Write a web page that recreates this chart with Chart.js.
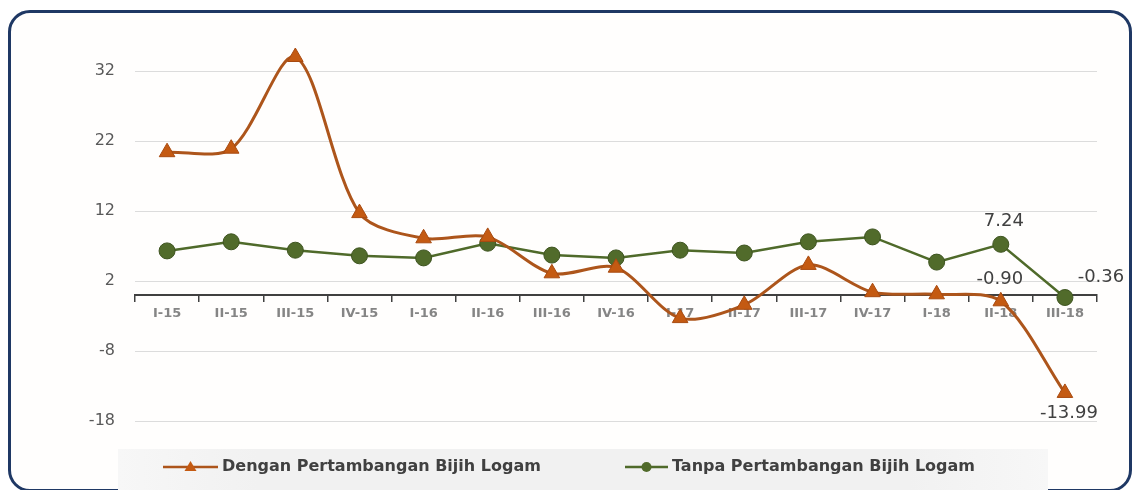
<!DOCTYPE html>
<html><head><meta charset="utf-8">
<script src="https://cdn.jsdelivr.net/npm/chart.js@4.4.1/dist/chart.umd.min.js"></script>
<style>
html,body{margin:0;padding:0;background:#fff;}
#wrap{position:relative;width:1134px;height:490px;overflow:hidden;background:#fff;}
#frame{position:absolute;left:8px;top:10px;width:1124px;height:482px;box-sizing:border-box;border:3px solid #1f3864;border-radius:22px;background:#fffefd;}
#c{position:absolute;left:0;top:0;}
</style></head><body>
<div id="wrap"><div id="frame"></div><canvas id="c" width="1134" height="490"></canvas></div>
<script>
const categories = ['I-15','II-15','III-15','IV-15','I-16','II-16','III-16','IV-16','I-17','II-17','III-17','IV-17','I-18','II-18','III-18'];
const denganValues = [20.4, 20.9, 34.0, 11.7, 8.1, 8.3, 3.1, 3.9, -3.3, -1.4, 4.3, 0.4, 0.1, -0.90, -13.99];
const tanpaValues = [6.3, 7.6, 6.4, 5.6, 5.3, 7.4, 5.7, 5.3, 6.4, 6.0, 7.6, 8.3, 4.7, 7.24, -0.36];
const yTickValues = [-18, -8, 2, 12, 22, 32];
const seriesNames = ['Dengan Pertambangan Bijih Logam', 'Tanpa Pertambangan Bijih Logam'];
const labelledIndices = [13, 14];

const ORANGE_LINE = '#ad551b', ORANGE_PT = '#c45a12';
const GREEN_LINE = '#4f6a2a', GREEN_PT = '#516b2b';

const labelOffsets = { 0: { 13: [-1, -22], 14: [4, 20] }, 1: { 13: [3, -23], 14: [36, -20] } };

const dataLabelPlugin = {
  id: 'dataLabels',
  afterDatasetsDraw(chart) {
    const ctx = chart.ctx;
    ctx.save();
    ctx.font = '18px "DejaVu Sans"';
    ctx.fillStyle = '#404040';
    ctx.textAlign = 'center';
    ctx.textBaseline = 'middle';
    chart.data.datasets.forEach((ds, di) => {
      const meta = chart.getDatasetMeta(di);
      labelledIndices.forEach(i => {
        const el = meta.data[i];
        const off = labelOffsets[di][i];
        ctx.fillText(ds.data[i].toFixed(2), el.x + off[0], el.y + off[1]);
      });
    });
    ctx.restore();
  }
};

const legendPlugin = {
  id: 'customLegend',
  afterDraw(chart) {
    const ctx = chart.ctx;
    ctx.save();
    const g = ctx.createLinearGradient(118, 0, 1048, 0);
    g.addColorStop(0, '#f7f7f7'); g.addColorStop(0.15, '#f1f1f1'); g.addColorStop(0.85, '#f1f1f1'); g.addColorStop(1, '#f7f7f7');
    ctx.fillStyle = g;
    ctx.fillRect(118, 449, 930, 41);
    const y = 467;
    const pos = [{ x0: 163, x1: 218, tx: 222 }, { x0: 625, x1: 668, tx: 672 }];
    chart.data.datasets.forEach((ds, di) => {
      const p = pos[di];
      ctx.strokeStyle = ds.borderColor;
      ctx.lineWidth = 2.5;
      ctx.beginPath(); ctx.moveTo(p.x0, y); ctx.lineTo(p.x1, y); ctx.stroke();
      const cx = (p.x0 + p.x1) / 2;
      ctx.fillStyle = ds.pointBackgroundColor;
      ctx.beginPath();
      if (ds.pointStyle === 'triangle') {
        ctx.moveTo(cx, y - 6); ctx.lineTo(cx + 6, y + 4); ctx.lineTo(cx - 6, y + 4); ctx.closePath();
      } else {
        ctx.arc(cx, y, 5, 0, Math.PI * 2);
      }
      ctx.fill();
      ctx.fillStyle = '#404040';
      ctx.font = 'bold 16px "DejaVu Sans"';
      ctx.textAlign = 'left';
      ctx.textBaseline = 'middle';
      ctx.fillText(ds.label, p.tx, y);
    });
    ctx.restore();
  }
};

new Chart(document.getElementById('c'), {
  type: 'line',
  data: {
    labels: categories,
    datasets: [
      {
        label: seriesNames[0], data: denganValues,
        borderColor: ORANGE_LINE, borderWidth: 3, tension: 0.3,
        pointStyle: 'triangle', pointRadius: 9, pointBackgroundColor: ORANGE_PT,
        pointBorderColor: '#a84a10', pointBorderWidth: 1
      },
      {
        label: seriesNames[1], data: tanpaValues,
        borderColor: GREEN_LINE, borderWidth: 2.5, tension: 0,
        pointStyle: 'circle', pointRadius: 8, pointBackgroundColor: GREEN_PT,
        pointBorderColor: '#3e5420', pointBorderWidth: 1
      }
    ]
  },
  options: {
    responsive: false,
    animation: false,
    devicePixelRatio: 1,
    layout: { padding: { left: 0, right: 37, top: 43, bottom: 69 } },
    plugins: { legend: { display: false }, tooltip: { enabled: false } },
    scales: {
      x: {
        type: 'category',
        offset: true,
        position: { y: 0 },
        grid: { display: true, drawOnChartArea: false, drawTicks: true, tickLength: 6, color: '#404040', lineWidth: 1.5, offset: true },
        border: { display: true, color: '#404040', width: 2 },
        ticks: { color: '#858585', font: { family: 'DejaVu Sans', size: 13, weight: 'bold' }, padding: 5, maxRotation: 0, autoSkip: false }
      },
      y: {
        min: -18, max: 36,
        afterBuildTicks: (scale) => { scale.ticks = yTickValues.map(v => ({ value: v })); },
        afterFit: (scale) => { scale.width = 135; },
        grid: { color: '#dcdcdc', lineWidth: 1, drawTicks: false },
        border: { display: false },
        ticks: { color: '#595959', font: { family: 'DejaVu Sans', size: 16 }, padding: 20 }
      }
    }
  },
  plugins: [dataLabelPlugin, legendPlugin]
});
</script>
</body></html>
